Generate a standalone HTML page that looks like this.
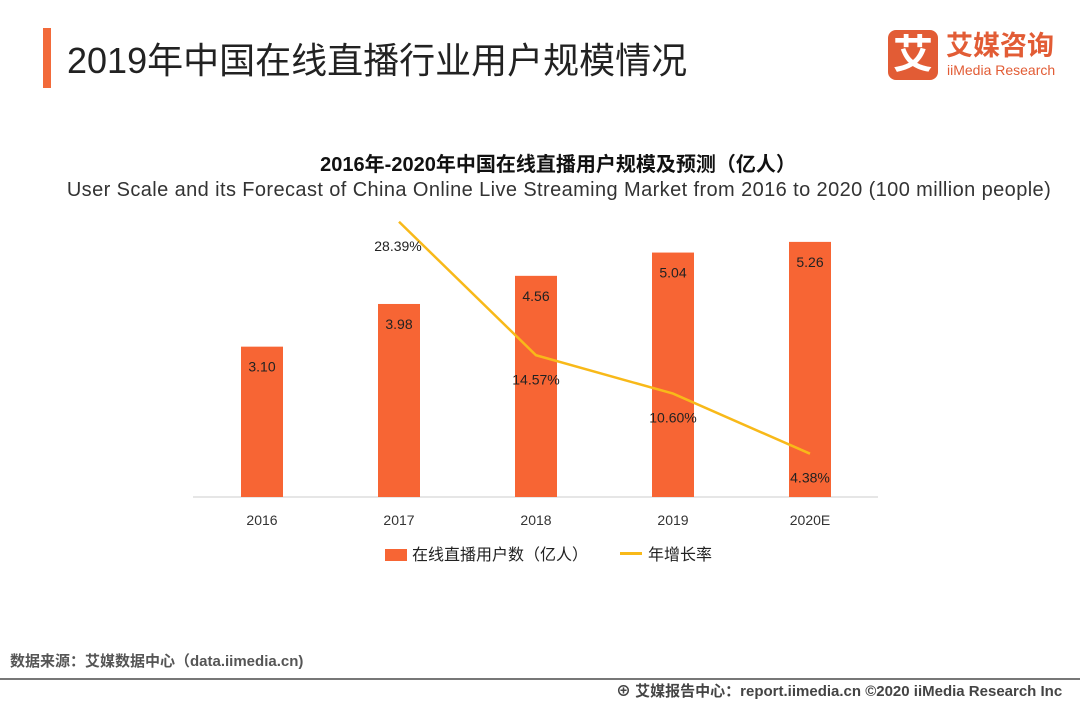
<!DOCTYPE html>
<html><head><meta charset="utf-8"><style>
body{margin:0;width:1080px;height:702px;background:#fff;overflow:hidden;position:relative;font-family:"Liberation Sans","Noto Sans CJK SC",sans-serif}
.a{position:absolute;white-space:nowrap}
</style></head><body>
<div class="a" style="left:43px;top:28px;width:8px;height:60px;background:#f26a3a"></div>
<div class="a" style="left:67px;top:32px;font-size:36px;color:#222">2019年中国在线直播行业用户规模情况</div>
<div class="a" style="left:888px;top:30px;width:50px;height:50px;background:#e25c35;border-radius:8px;color:#fff;font-size:40px;line-height:50px;text-align:center;font-weight:bold">艾</div>
<div class="a" style="left:946px;top:30px;font-size:27px;color:#e25c35;font-weight:bold;line-height:32px">艾媒咨询</div>
<div class="a" style="left:947px;top:62px;font-size:14px;color:#e25c35;line-height:16px">iiMedia Research</div>
<div class="a" style="left:0;width:1116px;text-align:center;top:148px;font-size:20px;font-weight:bold;color:#111">2016年-2020年中国在线直播用户规模及预测（亿人）</div>
<div class="a" style="left:0;width:1118px;text-align:center;top:179px;font-size:20px;letter-spacing:0.4px;color:#333">User Scale and its Forecast of China Online Live Streaming Market from 2016 to 2020 (100 million people)</div>
<svg class="a" style="left:0;top:0" width="1080" height="702" id="chart"></svg>
<div class="a" style="left:385px;top:541px;font-size:16px;color:#222"><span style="display:inline-block;width:22px;height:12px;background:#f76534;margin-right:5px;vertical-align:-1px"></span>在线直播用户数（亿人）</div>
<div class="a" style="left:620px;top:541px;font-size:16px;color:#222"><span style="display:inline-block;width:22px;height:3px;background:#f8b919;margin-right:6px;vertical-align:5px"></span>年增长率</div>
<div class="a" style="left:10px;top:650px;font-size:15px;color:#555;font-weight:bold">数据来源：艾媒数据中心（data.iimedia.cn)</div>
<div class="a" style="left:0;top:678px;width:1080px;height:2px;background:#777"></div>
<div class="a" style="left:616px;top:680px;font-size:15px;color:#444;font-weight:bold">⊕ 艾媒报告中心：report.iimedia.cn ©2020 iiMedia Research Inc</div>
<script>
const categories=["2016","2017","2018","2019","2020E"];
const users=[3.10,3.98,4.56,5.04,5.26];
const growth=[null,28.39,14.57,10.60,4.38];
const svg=document.getElementById('chart');
const NS='http://www.w3.org/2000/svg';
const x0=262,step=137,base=497,barPx=48.5,linePx=9.66;
const X=i=>x0+i*step, YB=v=>base-v*barPx, YL=v=>base-1-v*linePx;
function mk(t,a){const e=document.createElementNS(NS,t);for(const k in a)e.setAttribute(k,a[k]);svg.appendChild(e);return e;}
const ax=mk('line',{x1:193,x2:878,y1:base,y2:base,stroke:'#ccc','stroke-width':1});


users.forEach((v,i)=>{
 const r=mk('rect',{x:X(i)-21,y:YB(v),width:42,height:v*barPx,fill:'#f76534'});
 
 
 const t=mk('text',{x:X(i),y:YB(v)+25,'text-anchor':'middle','font-size':14,fill:'#222'});t.textContent=v.toFixed(2);
 
 
 const c=mk('text',{x:X(i),y:525,'text-anchor':'middle','font-size':14,fill:'#333'});c.textContent=categories[i];
 
 
});
let pts=[];growth.forEach((g,i)=>{if(g!==null)pts.push(X(i)+','+YL(g));});
const pl=mk('polyline',{points:pts.join(' '),fill:'none',stroke:'#f8b919','stroke-width':2.5});


growth.forEach((g,i)=>{if(g===null)return;
 const t=mk('text',{x:X(i)-(i===1?1:0),y:YL(g)+29,'text-anchor':'middle','font-size':14,fill:'#222'});t.textContent=g.toFixed(2)+'%';
 
 
});
</script>
</body></html>
